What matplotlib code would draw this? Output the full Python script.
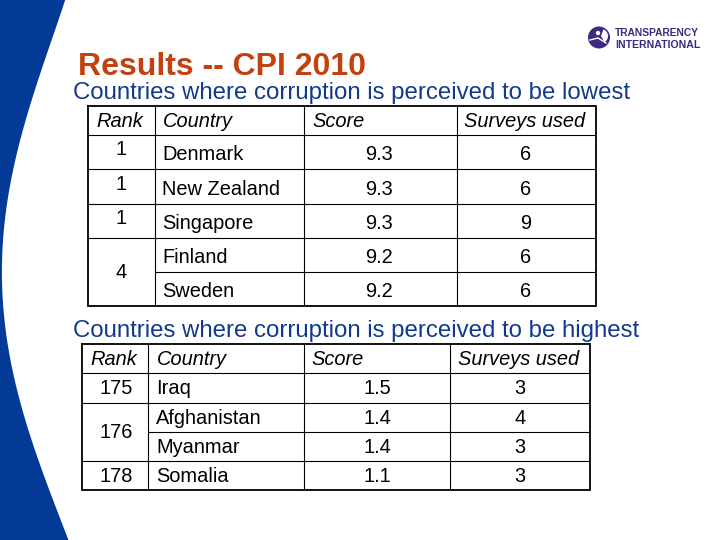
import matplotlib
matplotlib.use("Agg")
import matplotlib.pyplot as plt
from matplotlib.patches import Polygon, Circle, Wedge
import numpy as np

plt.rcParams['font.family'] = ['Liberation Sans', 'DejaVu Sans']

TITLE = "Results -- CPI 2010"
SUB_LOW = "Countries where corruption is perceived to be lowest"
SUB_HIGH = "Countries where corruption is perceived to be highest"
HEADERS = ["Rank", "Country", "Score", "Surveys used"]

low_rank = ["1", "1", "1", "4"]
low_country = ["Denmark", "New Zealand", "Singapore", "Finland", "Sweden"]
low_score = ["9.3", "9.3", "9.3", "9.2", "9.2"]
low_surveys = ["6", "6", "9", "6", "6"]

high_rank = ["175", "176", "178"]
high_country = ["Iraq", "Afghanistan", "Myanmar", "Somalia"]
high_score = ["1.5", "1.4", "1.4", "1.1"]
high_surveys = ["3", "4", "3", "3"]

RED = "#c2410f"
BLUE = "#123a8c"
BAND = "#033a96"
PURPLE = "#3d2a80"
TS = 14.4

fig = plt.figure(figsize=(7.2, 5.4), dpi=100)
ax = fig.add_axes([0, 0, 1, 1])
ax.set_xlim(0, 720)
ax.set_ylim(540, 0)
ax.axis("off")

# left band: a smooth edge fitted through points
edge_y = [0, 50, 100, 150, 200, 270, 330, 370, 420, 470, 510, 540]
edge_x = [65, 46, 30, 17, 8, 2, 4, 9, 24, 43, 57, 66]
coef = np.polyfit(edge_y, edge_x, 4)
yy = np.linspace(0, 540, 200)
xx = np.clip(np.polyval(coef, yy) + 1, 0, None)
ax.add_patch(Polygon([(0, 0)] + list(zip(xx, yy)) + [(0, 540)],
                     closed=True, fc=BAND, ec="none"))

ax.text(78, 75, TITLE, color=RED, fontsize=23, fontweight="bold", va="baseline")
ax.text(73, 99, SUB_LOW, color=BLUE, fontsize=17.25, va="baseline")
ax.text(73, 337, SUB_HIGH, color=BLUE, fontsize=17.25, va="baseline")

# logo
ax.add_patch(Circle((599, 37.5), 11, fc=PURPLE, ec="none"))
ax.add_patch(Wedge((601, 36), 7, -70, 60, fc="white", ec="none"))
ax.add_patch(Circle((598, 33), 2.2, fc="white", ec="none"))
ax.plot([590, 598, 606], [40, 38, 43], color="white", lw=1.0)
ax.text(615, 36, "TRANSPARENCY", color=PURPLE, fontsize=7.35, fontweight="bold", va="baseline")
ax.text(615, 47.5, "INTERNATIONAL", color=PURPLE, fontsize=7.6, fontweight="bold", va="baseline")


def draw_table(xs, ys, partial, header_x, hdr_base, rank_cx, ranks, rank_base,
               country_x, countries, score_cx, scores, surveys_cx, surveys, bases):
    k = "black"
    for y in ys[1:-1]:
        x0 = xs[1] if y in partial else xs[0]
        ax.plot([x0, xs[-1]], [y, y], color=k, lw=0.8, solid_capstyle="butt")
    for x in xs[1:-1]:
        ax.plot([x, x], [ys[0], ys[-1]], color=k, lw=0.8, solid_capstyle="butt")
    ax.plot([xs[0], xs[-1], xs[-1], xs[0], xs[0]],
            [ys[0], ys[0], ys[-1], ys[-1], ys[0]], color=k, lw=1.3, solid_joinstyle="miter")
    for hx, h in zip(header_x, HEADERS):
        ax.text(hx, hdr_base, h, fontsize=TS, style="italic", va="baseline", color=k)
    for r, b in zip(ranks, rank_base):
        ax.text(rank_cx, b, r, fontsize=TS, ha="center", va="baseline", color=k)
    for c, s, v, b in zip(countries, scores, surveys, bases):
        ax.text(country_x, b, c, fontsize=TS, va="baseline", color=k)
        ax.text(score_cx, b, s, fontsize=TS, ha="center", va="baseline", color=k)
        ax.text(surveys_cx, b, v, fontsize=TS, ha="center", va="baseline", color=k)


draw_table([88, 154.5, 303.5, 456.5, 596],
           [106, 134.5, 169, 203.5, 237.5, 271.5, 305.5], [271.5],
           [96, 163, 312, 464], 127, 121, low_rank, [155, 190, 224, 278],
           162, low_country, 379, low_score, 526, low_surveys,
           [160, 195, 229, 263, 297])

draw_table([82, 148, 303.5, 450, 590],
           [344, 372.5, 402.5, 431.5, 460.5, 489.5], [431.5],
           [90, 157, 311, 458], 365, 116, high_rank, [394, 438, 482],
           156, high_country, 377, high_score, 520, high_surveys,
           [394, 424, 453, 482])

fig.savefig("out.png", dpi=100)
